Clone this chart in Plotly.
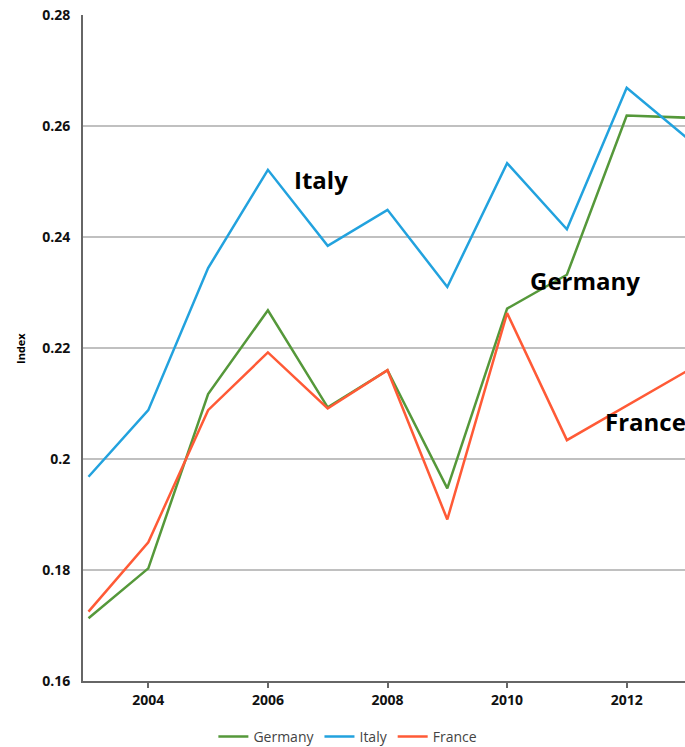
import plotly.graph_objects as go

# Annual index values by country
years = [2003, 2004, 2005, 2006, 2007, 2008, 2009, 2010, 2011, 2012, 2013]
germany = [0.1713, 0.1803, 0.2117, 0.2268, 0.2093, 0.2160, 0.1947, 0.2271, 0.2332, 0.2619, 0.2615]
italy = [0.1968, 0.2088, 0.2344, 0.2521, 0.2384, 0.2449, 0.2310, 0.2533, 0.2414, 0.2669, 0.2579]
france = [0.1725, 0.1850, 0.2088, 0.2192, 0.2091, 0.2160, 0.1891, 0.2263, 0.2034, 0.2096, 0.2158]

series_names = ["Germany", "Italy", "France"]
series_values = [germany, italy, france]
series_colors = ["#55983a", "#22a2de", "#ff5a36"]

# In-chart labels: (text, x, y)
labels = [("Italy", 2006.40, 0.2503), ("Germany", 2010.35, 0.2321), ("France", 2011.60, 0.2068)]

x_ticks = [2004, 2006, 2008, 2010, 2012]
y_ticks = [0.16, 0.18, 0.2, 0.22, 0.24, 0.26, 0.28]
y_tick_text = ["0.16", "0.18", "0.2", "0.22", "0.24", "0.26", "0.28"]

FONT = "Open Sans"

fig = go.Figure()
for name, vals, col in zip(series_names, series_values, series_colors):
    fig.add_trace(go.Scatter(
        x=years, y=vals, name=name, mode="lines",
        line=dict(color=col, width=2.5),
    ))

for text, lx, ly in labels:
    fig.add_annotation(
        x=lx, y=ly, text=f"<b>{text}</b>", showarrow=False,
        xanchor="left", yanchor="middle",
        font=dict(family=FONT, size=24, color="#000000"),
    )

# Y-axis title
fig.add_annotation(
    xref="paper", yref="paper", x=-0.1047, y=0.5, text="<b>Index</b>",
    textangle=-90, showarrow=False, xanchor="center", yanchor="middle",
    font=dict(family=FONT, size=11, color="#000000"),
)

fig.update_layout(
    width=685, height=747,
    margin=dict(l=83, r=0, t=15, b=66),
    paper_bgcolor="white", plot_bgcolor="white",
    font=dict(family=FONT, color="#222222"),
    showlegend=True,
    legend=dict(
        orientation="h", xref="paper", x=0.44, xanchor="center",
        yref="container", y=0.0134, yanchor="middle",
        font=dict(family=FONT, size=14, color="#444444"),
        itemwidth=30, tracegroupgap=0,
    ),
    xaxis=dict(
        range=[2002.908, 2012.975],
        tickvals=x_ticks, ticktext=[str(v) for v in x_ticks],
        showgrid=False, zeroline=False,
        showline=True, linecolor="#666666", linewidth=2,
        ticks="outside", ticklen=5, tickcolor="#666666", tickwidth=2,
        tickfont=dict(family=FONT, size=14, color="#111111", weight="bold"),
    ),
    yaxis=dict(
        range=[0.16, 0.28],
        tickvals=y_ticks, ticktext=y_tick_text,
        showgrid=True, gridcolor="#c0c0c0", gridwidth=1.5,
        zeroline=False,
        showline=True, linecolor="#666666", linewidth=2,
        ticks="", ticklabelstandoff=8,
        tickfont=dict(family=FONT, size=14, color="#111111", weight="bold"),
    ),
)

fig.write_html("out.html")
